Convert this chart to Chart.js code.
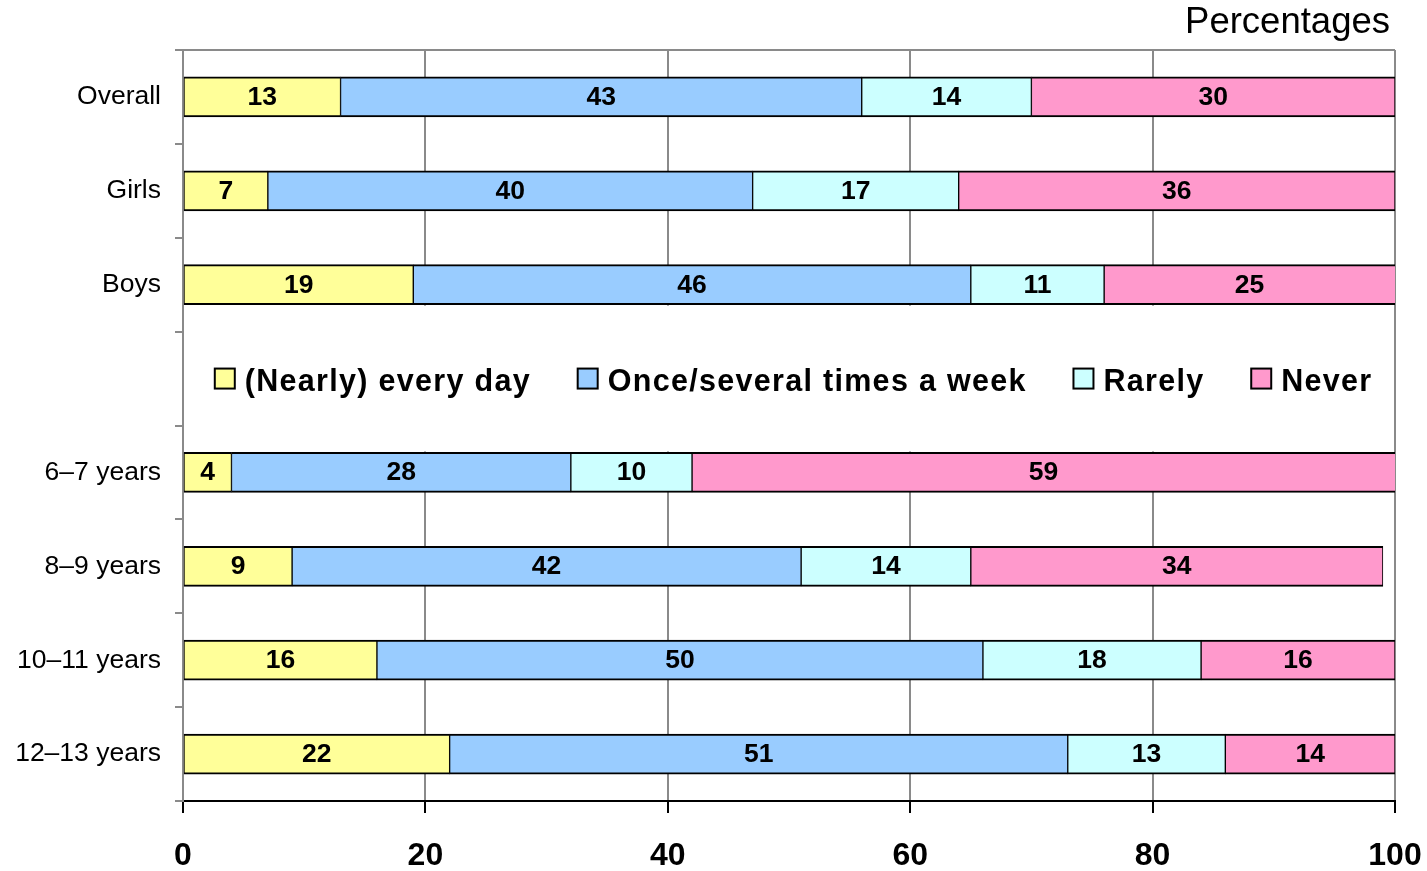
<!DOCTYPE html>
<html>
<head>
<meta charset="utf-8">
<title>Frequency by group</title>
<script src="https://cdn.jsdelivr.net/npm/chart.js@4/dist/chart.umd.min.js"></script>
<style>
  html, body { margin: 0; padding: 0; background: #fff; }
  #wrap { width: 1427px; height: 871px; }
</style>
</head>
<body>
<div id="wrap"><canvas id="c" width="1427" height="871"></canvas></div>
<script>
// Groups shown on the vertical axis (the empty slot holds the legend)
const categories = ['Overall', 'Girls', 'Boys', '', '6–7 years', '8–9 years', '10–11 years', '12–13 years'];

// Answer shares per group, in percent
const nearlyEveryDay = [13, 7, 19, null, 4, 9, 16, 22];
const severalTimesWeek = [43, 40, 46, null, 28, 42, 50, 51];
const rarely = [14, 17, 11, null, 10, 14, 18, 13];
const never = [30, 36, 25, null, 59, 34, 16, 14];

const seriesNames = ['(Nearly) every day', 'Once/several times a week', 'Rarely', 'Never'];
const seriesColors = ['#FFFF99', '#99CCFF', '#CCFFFF', '#FF99CC'];

const xTicks = [0, 20, 40, 60, 80, 100];
const unitLabel = 'Percentages';

const FONT = '"Liberation Sans", Arial, Helvetica, sans-serif';
const GRID = '#8a8a8a';
const LEGEND_ROW = 3;

function makeSet(i, data) {
  return {
    label: seriesNames[i],
    data: data,
    backgroundColor: seriesColors[i],
    borderColor: '#000',
    borderWidth: { top: 2, bottom: 2, left: 1, right: 1 },
    borderSkipped: false,
    barThickness: 40,
    clip: 0
  };
}

// White panel with the legend, placed in the empty row
const legendPanel = {
  id: 'legendPanel',
  beforeDatasetsDraw(chart) {
    const { ctx, chartArea, scales } = chart;
    const y = scales.y;
    const half = 20;
    const top = y.getPixelForValue(LEGEND_ROW - 1) + half + 1;
    const bottom = y.getPixelForValue(LEGEND_ROW + 1) - half - 1;
    ctx.save();
    ctx.fillStyle = '#fff';
    ctx.fillRect(chartArea.left + 1, top, chartArea.right - chartArea.left - 2, bottom - top);
    // top frame line of the plot area
    ctx.strokeStyle = GRID;
    ctx.lineWidth = 2;
    ctx.beginPath();
    ctx.moveTo(chartArea.left, chartArea.top);
    ctx.lineTo(chartArea.right, chartArea.top);
    ctx.stroke();
    ctx.restore();
  },
  afterDatasetsDraw(chart) {
    const { ctx, chartArea, scales } = chart;
    const cy = scales.y.getPixelForValue(LEGEND_ROW);
    const spacing = 1.3;
    const hasSpacing = 'letterSpacing' in ctx;
    const box = 20, boxGap = 10, itemGap = 48;
    ctx.save();
    ctx.font = 'bold 30.5px ' + FONT;
    if (hasSpacing) ctx.letterSpacing = spacing + 'px';
    const widths = seriesNames.map(t => ctx.measureText(t).width - (hasSpacing ? spacing : 0));
    let total = 0;
    widths.forEach((w, i) => { total += box + boxGap + w + (i < widths.length - 1 ? itemGap : 0); });
    let x = (chartArea.left + chartArea.right) / 2 + 4 - total / 2;
    ctx.textAlign = 'left';
    ctx.textBaseline = 'alphabetic';
    seriesNames.forEach((t, i) => {
      ctx.fillStyle = seriesColors[i];
      ctx.fillRect(x, cy - 10, box, box);
      ctx.strokeStyle = '#000';
      ctx.lineWidth = 2;
      ctx.strokeRect(x, cy - 10, box, box);
      ctx.fillStyle = '#000';
      ctx.fillText(t, x + box + boxGap, cy + 12);
      x += box + boxGap + widths[i] + itemGap;
    });
    ctx.restore();
  }
};

// Value printed in the middle of each segment
const segmentLabels = {
  id: 'segmentLabels',
  afterDatasetsDraw(chart) {
    const { ctx, chartArea } = chart;
    ctx.save();
    ctx.font = 'bold 26.5px ' + FONT;
    ctx.fillStyle = '#000';
    ctx.textAlign = 'center';
    ctx.textBaseline = 'alphabetic';
    chart.data.datasets.forEach((ds, di) => {
      const meta = chart.getDatasetMeta(di);
      meta.data.forEach((el, i) => {
        const v = ds.data[i];
        if (v === null || v === undefined) return;
        const p = el.getProps(['x', 'y', 'base'], true);
        const a = Math.max(Math.min(p.x, p.base), chartArea.left);
        const b = Math.min(Math.max(p.x, p.base), chartArea.right);
        ctx.fillText(String(v), (a + b) / 2, p.y + 8);
      });
    });
    ctx.restore();
  }
};

// Unit caption above the plot, right aligned
const unitCaption = {
  id: 'unitCaption',
  afterDraw(chart) {
    const { ctx, chartArea } = chart;
    ctx.save();
    ctx.font = '36.5px ' + FONT;
    ctx.fillStyle = '#000';
    ctx.textAlign = 'right';
    ctx.textBaseline = 'alphabetic';
    ctx.fillText(unitLabel, chartArea.right - 5, 33);
    ctx.restore();
  }
};

new Chart(document.getElementById('c'), {
  type: 'bar',
  data: {
    labels: categories,
    datasets: [
      makeSet(0, nearlyEveryDay),
      makeSet(1, severalTimesWeek),
      makeSet(2, rarely),
      makeSet(3, never)
    ]
  },
  options: {
    indexAxis: 'y',
    responsive: false,
    animation: false,
    devicePixelRatio: 1,
    layout: { padding: { top: 50, right: 32, left: 0, bottom: 0 } },
    plugins: {
      legend: { display: false },
      tooltip: { enabled: false },
      title: { display: false }
    },
    scales: {
      x: {
        type: 'linear',
        stacked: true,
        min: 0,
        max: 100,
        afterBuildTicks(scale) { scale.ticks = xTicks.map(v => ({ value: v })); },
        afterFit(scale) {
          scale.height = 70;
          scale.paddingLeft = 0;
          scale.paddingRight = 0;
        },
        grid: {
          color: GRID,
          lineWidth: 2,
          drawOnChartArea: true,
          drawTicks: true,
          tickLength: 12,
          tickColor: '#000',
          tickWidth: 2
        },
        border: { display: true, color: '#000', width: 2 },
        ticks: {
          color: '#000',
          padding: 24,
          maxRotation: 0,
          font: { family: FONT, size: 32, weight: 'bold' }
        }
      },
      y: {
        type: 'category',
        stacked: true,
        offset: true,
        afterFit(scale) {
          scale.width = 183;
          scale.paddingTop = 0;
          scale.paddingBottom = 0;
        },
        grid: {
          offset: true,
          color: GRID,
          lineWidth: 2,
          drawOnChartArea: false,
          drawTicks: true,
          tickLength: 8
        },
        border: { display: true, color: GRID, width: 2 },
        ticks: {
          color: '#000',
          padding: 14,
          autoSkip: false,
          font: { family: FONT, size: 26.5 }
        }
      }
    }
  },
  plugins: [legendPanel, segmentLabels, unitCaption]
});
</script>
</body>
</html>
